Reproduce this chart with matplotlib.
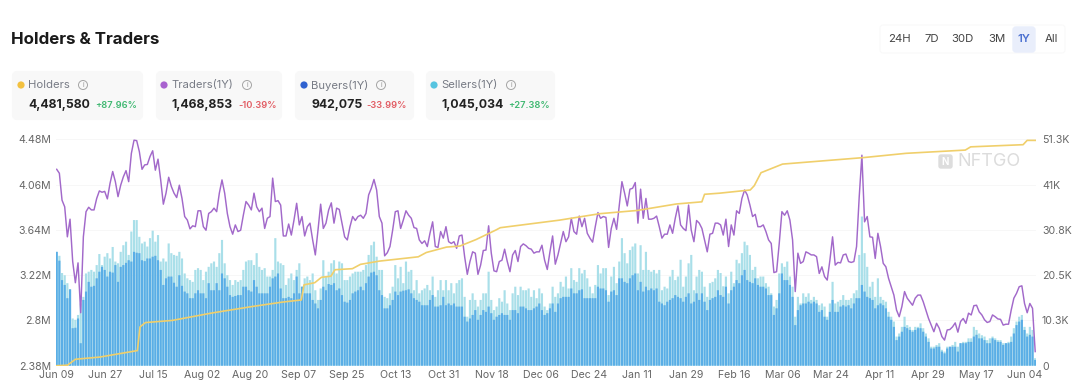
import numpy as np
import matplotlib
matplotlib.use("Agg")
import matplotlib.pyplot as plt
from matplotlib.patches import FancyBboxPatch, Circle

plt.rcParams['font.family'] = ['Inter', 'DejaVu Sans']

# traders per day, thousands (right axis)
traders = [44.5,43.6,37.5,36.0,29.2,33.2,23.6,18.8,23.3,12.0,29.2,34.9,35.9,35.3,35.3,37.9,39.6,39.3,39.5,37.8,41.3,44.0,41.7,38.3,40.9,42.8,44.2,41.7,48.1,51.1,51.0,48.5,44.5,45.5,45.6,47.4,48.7,44.3,46.8,42.1,36.6,39.1,42.7,40.6,39.1,38.1,40.9,37.9,33.8,33.0,31.0,31.7,31.5,35.1,35.1,31.5,30.7,34.5,34.9,35.7,34.9,39.1,42.1,39.1,34.5,31.5,29.8,31.9,30.4,30.7,34.1,37.2,36.4,35.3,39.1,36.0,34.9,35.7,31.1,33.4,33.8,42.5,37.2,37.4,36.4,29.4,29.4,32.1,29.6,33.0,36.8,31.9,33.8,29.4,31.5,32.3,28.5,25.1,30.7,36.6,31.1,32.3,35.3,36.9,32.3,35.7,35.4,32.3,29.2,28.5,31.5,33.8,32.9,33.8,
    34.1,33.4,34.5,38.7,40.2,42.2,39.8,33.8,32.3,24.9,25.6,27.0,30.7,34.9,35.1,31.1,33.0,35.1,34.1,33.4,31.3,31.1,28.5,27.7,28.3,27.0,30.0,32.6,27.0,26.8,30.4,28.9,31.5,28.1,27.7,28.1,26.6,29.4,29.6,24.7,20.7,23.6,25.8,25.5,20.7,22.8,26.1,26.2,31.7,25.5,21.5,21.3,23.6,23.9,26.4,23.6,21.3,25.1,26.1,23.6,27.0,27.6,27.2,26.6,26.4,25.5,25.8,25.8,27.3,23.9,21.8,25.8,29.4,23.0,25.1,27.7,30.4,28.1,29.2,33.4,30.4,29.8,33.9,31.5,33.4,30.0,28.9,28.0,31.5,34.7,33.4,33.8,33.6,26.8,31.1,33.4,30.9,36.4,41.7,39.1,36.2,40.0,40.2,41.5,32.3,40.0,33.4,37.9,33.2,33.2,33.4,33.9,31.5,28.9,29.8,29.8,31.9,30.0,33.4,36.2,31.9,31.1,30.6,36.4,30.7,28.1,32.9,32.3,31.1,28.5,25.8,29.8,30.0,32.3,32.3,
    31.9,29.6,33.2,27.0,31.9,29.6,35.1,34.5,37.9,39.8,38.7,36.4,33.8,34.3,31.5,31.5,31.9,30.4,28.5,27.7,21.1,21.3,27.7,34.9,34.1,35.1,33.0,28.5,16.8,25.5,23.2,23.6,25.8,25.5,25.1,25.1,24.7,20.9,22.4,20.2,19.4,23.9,29.2,22.8,23.4,23.3,25.1,25.3,23.6,23.4,23.6,27.0,38.3,47.7,32.6,33.8,29.2,29.1,24.3,30.0,27.0,23.2,22.4,19.8,17.9,16.0,12.6,11.1,13.4,16.8,15.3,14.5,13.7,15.3,16.0,16.0,14.5,12.6,10.7,9.2,7.7,9.6,8.5,6.6,5.8,8.1,8.2,8.8,9.7,7.6,10.0,10.7,9.6,11.9,11.5,13.6,13.7,12.2,11.5,10.4,9.8,10.0,11.5,11.1,10.6,10.5,9.2,9.4,9.4,12.6,15.3,16.4,17.9,18.1,14.1,12.0,14.1,13.0,3.2]

# buyers per day, thousands
buyers = [25.8,23.8,19.4,18.3,15.3,17.3,8.5,8.6,10.7,5.1,14.9,16.8,19.0,17.9,18.1,19.8,21.3,22.4,21.7,20.2,21.3,21.1,22.8,19.0,22.4,22.8,23.3,23.9,23.6,25.8,25.6,25.5,23.9,23.7,24.3,24.3,24.7,24.9,23.9,21.7,18.3,19.8,20.2,20.2,18.8,17.9,20.5,18.1,16.8,16.4,15.3,15.3,16.4,17.1,16.4,16.4,15.3,18.7,17.1,17.1,18.7,17.1,20.9,19.8,17.9,16.0,15.6,15.8,16.0,16.0,17.9,17.9,17.1,16.8,19.4,17.9,16.4,16.4,16.4,16.4,17.9,19.8,20.2,20.9,17.5,15.3,15.3,15.6,15.3,16.4,20.2,16.4,17.9,16.4,16.4,16.4,14.9,14.1,13.0,14.9,17.9,17.1,18.5,18.3,18.7,17.1,17.5,16.0,14.5,14.3,14.9,16.4,16.8,17.1,
    17.9,17.1,18.7,20.2,21.1,21.3,20.5,17.1,16.0,13.0,13.0,13.7,14.9,16.8,16.0,16.8,17.0,17.1,17.3,16.4,15.3,14.9,14.5,13.7,13.7,13.7,14.9,16.0,13.4,13.4,13.7,15.6,13.7,14.1,13.7,14.1,13.4,13.4,13.4,11.1,10.0,10.7,11.5,12.6,10.4,11.5,12.6,12.2,13.4,11.9,10.4,11.1,11.5,11.9,11.5,11.5,10.4,12.6,12.6,11.9,13.4,13.4,13.0,12.6,12.6,13.0,13.4,14.1,12.6,11.5,11.9,13.0,14.1,12.2,14.1,15.3,15.6,15.6,15.6,17.5,16.4,16.4,17.1,17.3,15.3,15.3,15.3,15.3,15.3,17.9,17.5,17.5,17.1,14.5,16.8,17.1,16.0,19.8,19.8,19.0,18.7,19.8,20.5,20.9,17.1,19.0,16.8,17.9,17.1,17.5,17.1,17.5,14.5,14.1,13.7,14.5,14.9,15.3,16.0,15.6,15.3,14.5,15.6,16.4,14.1,14.5,16.4,14.9,16.4,14.5,12.6,14.9,15.3,15.6,17.1,
    16.0,15.6,17.9,14.1,17.1,17.9,19.4,18.7,20.5,21.7,19.4,19.0,18.7,19.8,18.3,17.9,17.9,17.5,16.0,16.0,11.5,13.0,16.4,20.9,19.4,19.4,18.3,15.6,9.2,12.6,13.7,14.1,14.1,14.5,14.1,14.5,14.1,12.2,12.6,11.1,10.4,12.2,14.9,12.2,12.2,13.4,13.7,13.4,13.7,13.0,14.1,15.3,15.3,18.3,16.8,15.6,15.3,14.9,13.0,13.7,14.1,13.7,13.0,11.1,10.4,8.8,5.8,6.6,7.7,8.8,8.5,8.1,7.7,8.1,8.5,8.5,7.7,6.6,5.4,3.9,3.9,4.3,4.3,3.2,2.8,3.9,4.3,4.3,4.3,3.2,5.1,5.1,5.1,5.4,5.4,6.6,7.0,6.2,6.2,5.8,5.1,5.1,6.2,5.8,5.4,5.4,4.7,5.1,5.1,5.4,7.3,9.2,10.0,10.4,8.1,6.6,7.0,6.6,1.3]

# sellers per day, thousands
sellers = [25.8,24.9,21.0,20.5,18.7,17.3,10.7,10.4,11.5,14.1,15.6,20.9,21.3,21.7,21.3,22.8,25.3,22.8,24.7,25.5,24.3,26.9,23.6,23.2,25.8,27.3,28.1,25.1,30.4,33.0,33.0,29.2,27.7,28.1,27.0,28.9,30.6,28.1,29.6,23.6,24.3,23.6,27.7,25.5,25.1,24.9,25.8,24.3,20.9,19.8,19.4,19.0,21.7,22.1,21.7,19.4,21.3,22.4,23.2,23.6,22.4,25.5,28.5,23.2,20.5,19.4,18.3,19.4,19.0,19.4,21.7,23.6,23.9,23.9,22.8,25.5,22.4,21.7,22.1,20.2,20.2,21.7,28.9,23.6,23.2,22.8,18.3,19.8,20.9,19.4,21.7,23.2,17.9,19.8,20.2,19.4,20.9,17.1,14.9,17.5,23.9,20.2,21.3,23.2,23.9,20.9,23.6,23.2,19.4,19.4,20.2,20.9,21.3,21.3,
    21.3,21.7,22.8,25.1,27.3,28.1,24.7,21.7,21.7,15.6,15.3,16.4,17.9,22.8,19.8,22.4,18.7,23.6,21.3,21.7,17.1,19.4,16.4,17.1,17.5,18.3,17.1,20.2,15.6,17.1,19.4,17.1,19.4,17.1,18.7,16.4,18.7,19.4,19.8,15.6,11.1,14.9,16.4,14.9,13.4,14.9,16.4,16.4,21.3,14.9,12.6,13.4,15.3,14.5,17.1,14.1,12.6,16.4,17.9,16.0,17.9,17.1,17.1,17.5,15.6,17.1,15.3,17.5,16.4,13.4,12.6,14.1,17.9,15.6,16.4,19.0,17.9,20.2,17.5,22.1,19.4,19.0,22.1,20.9,21.7,19.8,17.9,16.4,18.3,22.8,20.9,22.1,22.1,16.0,20.2,22.4,18.7,23.6,28.9,25.5,23.2,26.2,27.0,27.7,20.9,27.3,21.7,25.8,21.7,21.3,21.7,20.9,21.7,17.1,17.9,17.5,20.2,21.7,19.4,20.2,24.0,17.9,20.2,23.2,25.1,17.1,20.2,21.7,21.3,17.9,15.6,18.7,19.0,19.8,21.7,
    21.0,18.0,20.2,16.4,21.3,18.7,24.0,23.2,25.5,28.1,27.3,25.1,21.7,22.4,19.8,20.2,20.2,18.7,17.9,16.4,13.4,14.9,20.9,23.2,22.4,23.6,20.2,17.9,11.1,15.6,14.1,16.4,15.6,16.4,14.9,15.6,14.9,13.7,14.1,13.4,11.1,14.1,19.0,14.1,14.5,14.9,16.0,14.9,14.9,15.3,16.4,17.1,25.1,33.8,25.5,22.4,17.9,19.0,15.6,19.8,15.6,14.9,14.5,12.2,11.1,10.0,6.6,7.3,8.8,11.1,9.2,8.8,8.1,8.8,8.8,9.6,8.5,7.3,6.2,4.3,4.3,4.7,5.1,3.6,3.2,4.3,4.3,4.7,5.4,4.3,5.1,5.4,5.4,6.2,6.2,8.8,8.1,7.3,6.9,6.6,5.8,6.2,6.6,6.2,5.8,5.8,5.1,5.1,5.4,6.6,8.5,10.0,11.1,11.5,8.8,7.3,8.8,8.1,1.7]

# holders curve, day number and millions (left axis)
holders_day = [0,4,7,16,30,31,33,43,58,73,84,91,92,96,98.5,102,103.5,110,113,120,134.5,137.5,145,150,156,163.5,165,187,202,216,230.5,240,241,246.5,258,259.5,262,270,300,316,338,340,359.5,361,364]
holders_val = [2.38,2.385,2.44,2.46,2.52,2.74,2.78,2.80,2.87,2.93,2.97,2.99,3.13,3.15,3.20,3.21,3.27,3.28,3.32,3.35,3.39,3.43,3.48,3.49,3.55,3.64,3.66,3.73,3.79,3.82,3.88,3.90,3.97,3.98,4.01,4.05,4.17,4.25,4.31,4.35,4.38,4.41,4.43,4.47,4.47]

tick_days = list(range(0, 361, 18))
tick_labels = ["Jun 09","Jun 27","Jul 15","Aug 02","Aug 20","Sep 07","Sep 25","Oct 13","Oct 31","Nov 18","Dec 06","Dec 24","Jan 11","Jan 29","Feb 16","Mar 06","Mar 24","Apr 11","Apr 29","May 17","Jun 04"]
left_ticks = [2.38,2.8,3.22,3.64,4.06,4.48]
left_labels = ["2.38M","2.8M","3.22M","3.64M","4.06M","4.48M"]
right_ticks = [0,10.3,20.5,30.8,41,51.3]
right_labels = ["0","10.3K","20.5K","30.8K","41K","51.3K"]

cards = ["Holders","Traders(1Y)","Buyers(1Y)","Sellers(1Y)"]
card_values = ["4,481,580","1,468,853","942,075","1,045,034"]
card_changes = ["+87.96%","-10.39%","-33.99%","+27.38%"]
card_colors = ["#f3c13f","#a862cf","#2f62d0","#56c4e0"]
card_left = [11,155,294,425]
card_right = [144,283,415,556]
card_text_x = [28,171,311,441]
card_change_x = [95,238,366,508]
card_icon_x = [83,247,381,511]
tabs = ["24H","7D","30D","3M","1Y","All"]
tab_x = [899,932,963,997,1024,1051]

W, H = 1080, 392
fig = plt.figure(figsize=(W/100, H/100), dpi=100)

def rect(left, top, right, bottom):
    return [left/W, 1-bottom/H, (right-left)/W, (bottom-top)/H]

def span(v):
    # the readings were taken every 8 zoomed pixels, spread them over the full year
    return np.linspace(0, 364, len(v))

ax = fig.add_axes(rect(56, 139.3, 1036, 365.7))
ax.bar(span(sellers), sellers, width=0.8, color="#a9dfe9", zorder=2, snap=False, lw=0)
ax.bar(span(buyers), buyers, width=0.8, color="#5aaee6", zorder=3, snap=False, lw=0)
ax.plot(span(traders), traders, color="#a269ca", lw=1.05, zorder=5)
ax.set_xlim(-0.26, 364.3)
ax.set_ylim(0, 51.3)
ax.set_xticks(tick_days, tick_labels)
ax.grid(axis='y', color="#f7f7f7", lw=0.7, zorder=0)
ax.set_axisbelow(True)
for s in ax.spines.values():
    s.set_visible(False)

ax2 = ax.twinx()
ax2.plot(holders_day, holders_val, color="#f0cf6b", lw=1.2, zorder=6)
ax2.set_ylim(2.38, 4.48)
ax2.set_yticks(left_ticks, left_labels)
ax2.yaxis.tick_left()
ax2.tick_params(length=0, labelsize=7.6, labelcolor="#666666", pad=3.6)
for s in ax2.spines.values():
    s.set_visible(False)

# twinx moves the first axis ticks, so set the right side after it
ax.set_yticks(right_ticks, right_labels)
ax.yaxis.tick_right()
ax.tick_params(length=0, labelsize=7.6, labelcolor="#666666", pad=3)
ax.tick_params(axis='y', pad=4.3)

# page furniture in pixel coordinates
ov = fig.add_axes([0, 0, 1, 1], zorder=10)
ov.set_xlim(0, W)
ov.set_ylim(H, 0)
ov.axis("off")
ov.patch.set_alpha(0)

ov.text(11, 39, "Holders & Traders", fontsize=12.2, fontweight="bold", color="#1a1a1a", va="center")

for i in range(4):
    ov.add_patch(FancyBboxPatch((card_left[i]+3, 73), card_right[i]-card_left[i]-6, 45,
                                boxstyle="round,pad=0,rounding_size=3", lw=3, ec="#f8f8f8", fc="#f8f8f8", zorder=1))
    ov.add_patch(Circle((card_text_x[i]-7, 85), 2.9, color=card_colors[i], zorder=2))
    ov.text(card_text_x[i], 85, cards[i], fontsize=8.1, color="#777b85", va="center", zorder=2)
    ov.add_patch(Circle((card_icon_x[i], 85), 4.5, fc="none", ec="#a5a5a5", lw=0.7, zorder=2))
    ov.text(card_icon_x[i], 85, "i", fontsize=4.8, color="#909090", ha="center", va="center", zorder=2)
    ov.text(card_text_x[i], 105, card_values[i], fontsize=8.8, fontweight="bold", color="#222222", va="center", zorder=2)
    col = "#3fb871" if card_changes[i][0] == "+" else "#e25c63"
    ov.text(card_change_x[i], 105.5, card_changes[i], fontsize=6.7, fontweight="semibold", color=col, va="center", zorder=2)

ov.add_patch(FancyBboxPatch((880, 25), 185, 28, boxstyle="round,pad=0,rounding_size=3", lw=0.8, ec="#f9f9f9", fc="white"))
ov.add_patch(FancyBboxPatch((1013, 27), 22, 25, boxstyle="round,pad=0,rounding_size=3", lw=1, ec="#e9eefb", fc="#e9eefb"))
for t, x in zip(tabs, tab_x):
    ov.text(x, 39, t, fontsize=8.2, ha="center", va="center", color="#4a6fd0" if t == "1Y" else "#444444",
            fontweight="semibold" if t == "1Y" else "normal")

# watermark
ov.add_patch(FancyBboxPatch((939, 155), 13, 13, boxstyle="round,pad=0,rounding_size=2", lw=1, ec="#dddddd", fc="#dddddd", zorder=4))
ov.text(945.5, 161.5, "N", fontsize=7, color="white", fontweight="bold", ha="center", va="center", zorder=5)
ov.text(957, 161.5, "NFTGO", fontsize=13, color="#dcdcdc", va="center", zorder=5)

fig.savefig("out.png", dpi=100)
